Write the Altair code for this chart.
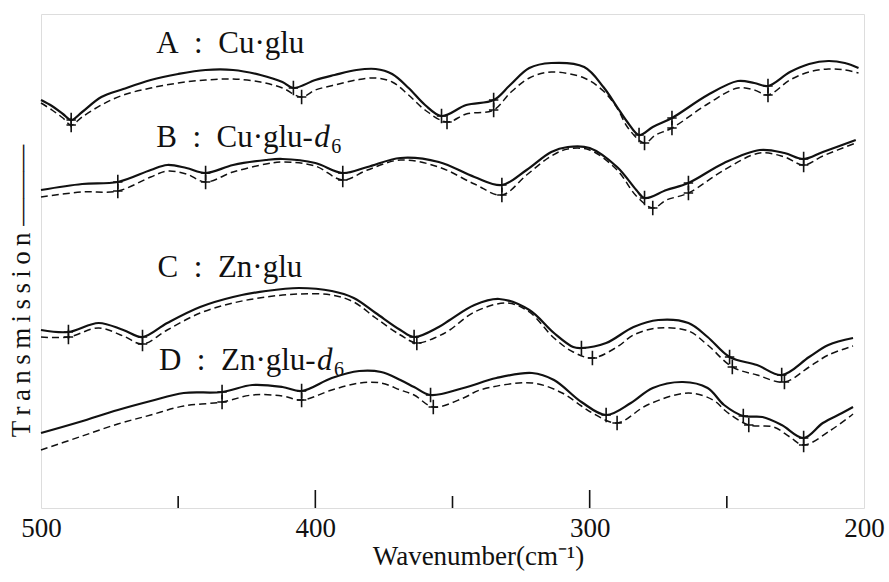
import altair as alt
import pandas as pd

# ---- data (x: wavenumber cm-1, y: relative transmission, arbitrary units) ----
A_wn = [500, 496, 492, 489, 485, 478, 470, 460, 450, 440, 430, 420, 412, 408, 400, 393, 385, 378, 372, 366,
        360, 354, 345, 335, 329, 322, 314, 302, 295, 290, 286, 282, 277, 270, 257, 246, 240, 235, 227, 220,
        213, 207, 202]
A_solid = [408, 402, 394, 388, 396, 411, 419, 428, 434, 438, 438, 433, 426, 420, 428, 433, 438, 439, 434, 420,
           403, 392, 403, 408, 423, 440, 445, 441, 421, 401, 385, 373, 381, 390, 413, 427, 425, 422, 436, 444,
           447, 445, 440]
A_dash_wn = [500, 496, 492, 489, 485, 478, 470, 460, 450, 440, 430, 420, 412, 405, 400, 393, 385, 378, 372, 366,
             360, 352, 345, 335, 329, 322, 314, 302, 295, 290, 286, 280, 276, 270, 257, 246, 240, 235, 227, 220,
             213, 207, 202]
A_dash = [405, 398, 390, 383, 391, 403, 413, 420, 425, 428, 429, 426, 420, 411, 418, 423, 428, 430, 426, 413,
          398, 386, 394, 398, 415, 430, 436, 430, 417, 400, 380, 365, 373, 380, 404, 420, 418, 413, 428, 436,
          439, 438, 435]

B_wn = [500, 485, 472, 460, 454, 447, 440, 430, 418, 412, 400, 390, 381, 369, 355, 342, 332, 323, 314, 308,
        300, 290, 283, 280, 272, 264, 251, 238, 229, 222, 215, 203]
B_solid = [318, 324, 326, 338, 343, 340, 335, 343, 348, 349, 345, 335, 341, 350, 346, 331, 323, 338, 356, 361,
           360, 341, 318, 310, 318, 325, 345, 358, 355, 349, 356, 368]
B_dash_wn = [500, 485, 472, 460, 454, 447, 440, 430, 418, 412, 400, 390, 381, 369, 355, 342, 332, 323, 314, 308,
             300, 290, 283, 277, 272, 264, 251, 238, 229, 222, 215, 203]
B_dash = [311, 316, 317, 331, 337, 334, 326, 336, 344, 346, 342, 328, 338, 348, 341, 324, 313, 333, 352, 359,
          358, 338, 312, 300, 308, 315, 338, 355, 351, 343, 352, 365]

C_wn = [500, 490, 479, 470, 463, 454, 442, 430, 418, 406, 394, 386, 378, 369, 364, 355, 351, 342, 333, 322,
        313, 306, 303, 294, 284, 275, 264, 257, 249, 239, 230, 220, 213, 204]
C_solid = [178, 176, 185, 178, 171, 185, 201, 211, 217, 220, 217, 210, 195, 178, 171, 181, 188, 203, 209, 198,
           175, 161, 160, 165, 181, 188, 185, 171, 151, 143, 133, 151, 163, 170]
C_dash_wn = [500, 490, 479, 470, 463, 454, 442, 430, 418, 406, 394, 386, 378, 369, 363, 355, 351, 342, 330, 322,
             313, 306, 299, 290, 284, 275, 264, 257, 248, 239, 229, 220, 213, 204]
C_dash = [171, 171, 180, 172, 164, 178, 195, 205, 211, 214, 213, 206, 190, 173, 165, 172, 178, 196, 205, 196,
          170, 156, 150, 161, 173, 180, 177, 163, 141, 133, 126, 141, 153, 162]

D_wn = [500, 486, 472, 460, 448, 434, 423, 412, 405, 394, 384, 376, 369, 364, 358, 346, 334, 321, 313, 303,
        294, 285, 277, 266, 257, 251, 244, 237, 230, 222, 215, 208, 204]
D_solid = [75, 86, 98, 107, 115, 116, 123, 121, 117, 130, 137, 136, 128, 121, 113, 120, 130, 135, 128, 106,
           93, 105, 120, 126, 120, 103, 92, 91, 83, 70, 85, 95, 101]
D_dash_wn = [500, 486, 472, 460, 448, 434, 423, 412, 405, 394, 384, 376, 369, 364, 357, 346, 340, 321, 310, 303,
             299, 290, 279, 264, 255, 250, 242, 233, 227, 222, 212, 204]
D_dash = [58, 71, 84, 93, 102, 106, 113, 112, 108, 118, 125, 125, 118, 113, 101, 110, 118, 125, 115, 102,
          95, 85, 103, 115, 108, 96, 83, 81, 71, 63, 78, 94]

# band positions marked with "+"
A_marks = [489, 408, 354, 335, 282, 270, 235]
A_dash_marks = [489, 405, 352, 335, 280, 270, 235]
B_marks = [472, 440, 390, 332, 280, 264, 222]
B_dash_marks = [472, 440, 390, 332, 277, 264, 222]
C_marks = [490, 463, 364, 303, 249, 230]
C_dash_marks = [490, 463, 363, 299, 248, 229]
D_marks = [434, 405, 358, 294, 244, 222]
D_dash_marks = [434, 405, 357, 290, 242, 222]

# curve labels
label_main = ["A\u2002:\u2002Cu\u00b7glu", "B\u2002:\u2002Cu\u00b7glu-", "C\u2002:\u2002Zn\u00b7glu", "D\u2002:\u2002Zn\u00b7glu-"]
label_wn = [458, 458, 457.5, 457]
label_t = [455, 361, 231, 138]
suffix_d = ["d", "d"]
suffix_6 = ["6", "6"]
suffix_wn = [458, 457]
suffix_t = [361, 138]

x_ticks = [500, 400, 300, 200]
major_ticks = [400, 300]
minor_ticks = [450, 350, 250]

x_title = "Wavenumber(cm\u207b\u00b9)"
y_title = "T\u2009r\u2009a\u2009n\u2009s\u2009m\u2009i\u2009s\u2009s\u2009i\u2009o\u2009n \u2014\u2014\u2014"

# ---- build tables ----
series = [
    ("A", "solid", A_wn, A_solid, A_marks), ("A", "dashed", A_dash_wn, A_dash, A_dash_marks),
    ("B", "solid", B_wn, B_solid, B_marks), ("B", "dashed", B_dash_wn, B_dash, B_dash_marks),
    ("C", "solid", C_wn, C_solid, C_marks), ("C", "dashed", C_dash_wn, C_dash, C_dash_marks),
    ("D", "solid", D_wn, D_solid, D_marks), ("D", "dashed", D_dash_wn, D_dash, D_dash_marks),
]
rows, mrows = [], []
for name, style, wn, vals, marks in series:
    lookup = dict(zip(wn, vals))
    for w, v in zip(wn, vals):
        rows.append({"key": name + style, "style": style, "wn": w, "t": v})
    for m in marks:
        mrows.append({"key": name + style, "wn": m, "t": lookup[m]})
df = pd.DataFrame(rows)
dm = pd.DataFrame(mrows)
dl = pd.DataFrame({"text": label_main, "wn": label_wn, "t": label_t})
ds = pd.DataFrame({"d": suffix_d, "six": suffix_6, "wn": suffix_wn, "t": suffix_t})

FONT = "Liberation Serif"
INK = "#111111"

X = alt.X("wn:Q",
          scale=alt.Scale(domain=[500, 200], nice=False, zero=False),
          axis=alt.Axis(values=x_ticks, ticks=False, tickSize=0, domain=False, grid=False,
                        labelFont=FONT, labelFontSize=27, labelColor=INK, labelPadding=7,
                        labelFlush=False, labelOverlap=False, format="d",
                        title=x_title, titleFont=FONT, titleFontSize=27, titleFontWeight="normal",
                        titleColor=INK, titleX=437, titleY=56, titleBaseline="alphabetic",
                        titleAlign="center"))
Y = alt.Y("t:Q", scale=alt.Scale(domain=[0, 494], nice=False, zero=False), axis=None)

solid = alt.Chart(df).transform_filter(alt.datum.style == "solid").mark_line(
    interpolate="catmull-rom", color=INK, strokeWidth=2.2
).encode(x=X, y=Y, detail="key:N")

dashed = alt.Chart(df).transform_filter(alt.datum.style == "dashed").mark_line(
    interpolate="catmull-rom", color=INK, strokeWidth=1.5, strokeDash=[7, 4]
).encode(x=X, y=Y, detail="key:N")

plus = alt.Chart(dm).mark_point(
    shape="M0,-1L0,1M-0.65,0L0.65,0", filled=False, stroke=INK, strokeWidth=1.6, size=210, opacity=1
).encode(x=X, y=Y)

labels = alt.Chart(dl).mark_text(
    font=FONT, fontSize=31, align="left", baseline="alphabetic", color=INK
).encode(x=X, y=Y, text="text:N")

lab_d = alt.Chart(ds).mark_text(
    font=FONT, fontSize=31, fontStyle="italic", align="left", baseline="alphabetic", color=INK, dx=158
).encode(x=X, y=Y, text="d:N")

lab_6 = alt.Chart(ds).mark_text(
    font=FONT, fontSize=20, align="left", baseline="alphabetic", color=INK, dx=175, dy=6
).encode(x=X, y=Y, text="six:N")

tick_major = alt.Chart(pd.DataFrame({"wn": major_ticks})).mark_rule(color=INK, strokeWidth=1.6).encode(
    x=X, y=alt.value(494), y2=alt.value(476))
tick_minor = alt.Chart(pd.DataFrame({"wn": minor_ticks})).mark_rule(color=INK, strokeWidth=1.6).encode(
    x=X, y=alt.value(494), y2=alt.value(482))

ytitle = alt.Chart(pd.DataFrame({"text": [y_title]})).mark_text(
    font=FONT, fontSize=27, angle=270, align="center", baseline="middle", color=INK
).encode(x=alt.value(-19), y=alt.value(277), text="text:N")

chart = alt.layer(
    tick_major, tick_minor, dashed, solid, plus, labels, lab_d, lab_6, ytitle
).properties(
    width=823, height=494,
    padding={"left": 41, "top": 14, "right": 25, "bottom": 74},
    autosize=alt.AutoSizeParams(type="none"),
).configure_view(
    stroke=INK, strokeWidth=2
).configure(background="white")

chart.save("out.html", embed_options={"renderer": "svg", "actions": False})
